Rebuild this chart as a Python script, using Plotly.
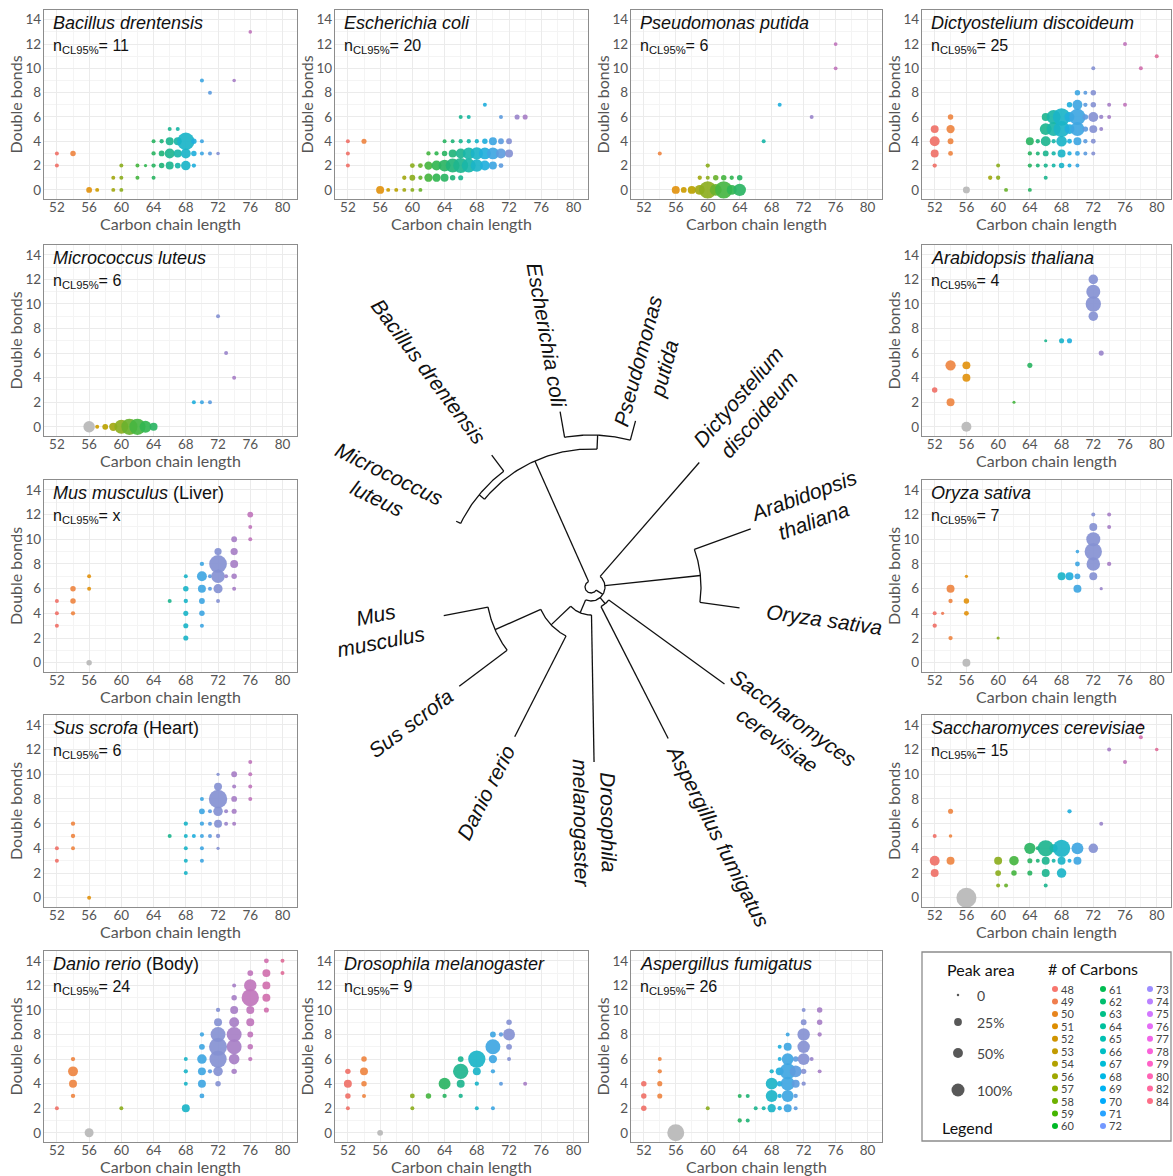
import math
import numpy as np
import plotly.graph_objects as go

W, H = 1173, 1176

# ---------------- data: (carbon chain length, double bonds, relative peak area %) ----------------
BACILLUS = [(52,3,2),(52,2,2),(54,3,8),(56,0,10),(57,0,2),(59,0,2),(60,0,2),(59,1,2),(60,1,2),(60,2,2),
            (62,1,2),(64,1,2),(62,2,2),(63,2,0.5),(64,2,3),(65,2,8),(66,2,27),(67,2,10),(68,2,45),(69,2,3),
            (64,3,3),(65,3,10),(66,3,50),(67,3,27),(68,3,50),(69,3,8),(70,3,2),(71,3,2),(72,3,1),
            (64,4,2),(65,4,3),(66,4,27),(67,4,27),(68,4,200),(69,4,8),(70,4,2),
            (66,5,2),(67,5,2),(70,9,2),(71,8,2),(74,9,1),(76,13,1)]
ECOLI = [(52,4,2),(52,3,2),(52,2,2),(54,4,6),
         (56,0,27),(57,0,2),(58,0,2),(59,0,2),(60,0,2),(61,0,2),
         (59,1,3),(60,1,10),(61,1,3),(62,1,30),(63,1,30),(64,1,27),(65,1,8),(66,1,6),
         (60,2,5),(61,2,5),(62,2,30),(63,2,50),(64,2,80),(65,2,120),(66,2,140),(67,2,120),(68,2,90),(69,2,50),(70,2,27),(71,2,5),
         (62,3,3),(63,3,3),(64,3,8),(65,3,27),(66,3,50),(67,3,80),(68,3,90),(69,3,80),(70,3,80),(71,3,50),(72,3,27),
         (64,4,2),(65,4,2),(66,4,3),(67,4,3),(68,4,3),(69,4,8),(70,4,27),(71,4,10),(72,4,10),
         (66,6,2),(67,6,2),(69,7,2),(71,6,2),(73,6,6),(74,6,6)]
PSEUDOMONAS = [(54,3,2),(56,0,27),(57,0,10),(58,0,27),(59,0,50),(60,0,200),(61,0,80),(62,0,200),(63,0,50),(64,0,90),
               (59,1,3),(60,1,2),(61,1,8),(62,1,8),(63,1,3),(64,1,8),(60,2,3),
               (67,4,2),(69,7,2),(73,6,2),(76,10,1.5),(76,12,1.5)]
DICTYOSTELIUM = [(52,2,3),(52,3,27),(52,4,50),(52,5,27),(54,3,5),(54,4,10),(54,5,30),(54,6,8),
                 (59,1,3),(60,1,3),(60,2,2),(61,0,2),(64,0,2),(66,1,2),
                 (64,2,3),(65,2,2),(66,2,3),(67,2,2),(68,2,8),(69,2,2),(70,2,2),
                 (64,3,3),(65,3,2),(66,3,10),(67,3,3),(68,3,27),(69,3,3),(70,3,5),(71,3,2),(72,3,2),
                 (64,4,27),(65,4,3),(66,4,50),(67,4,3),(68,4,60),(69,4,5),(70,4,27),(71,4,3),(72,4,5),
                 (66,5,80),(67,5,120),(68,5,170),(69,5,50),(70,5,120),(71,5,8),(72,5,27),(73,5,2),
                 (66,6,27),(67,6,120),(68,6,200),(69,6,50),(70,6,170),(71,6,8),(72,6,50),(73,6,3),(74,6,2),
                 (69,7,8),(70,7,50),(71,7,3),(72,7,8),(74,7,2),(76,7,2),
                 (70,8,8),(71,8,2),(72,8,8),(72,10,2),(76,12,2),(78,10,2),(80,11,2)]
MICROCOCCUS = [(57,0,2),(58,0,10),(59,0,30),(60,0,120),(61,0,170),(62,0,170),(63,0,80),(64,0,27),
               (69,2,2),(70,2,2),(71,2,2),(72,9,2),(73,6,2),(74,4,2)]
ARABIDOPSIS = [(52,3,8),(54,2,27),(54,5,55),(56,5,27),(56,4,27),(62,2,0.3),(64,5,6),(66,7,0.3),(68,7,6),(69,7,6),(73,6,6),
               (72,9,45),(72,10,150),(72,11,120),(72,12,45)]
MUS = [(52,3,2),(52,4,2),(52,5,2),(54,4,3),(54,5,8),(54,6,8),(56,6,2),(56,7,2),
       (66,5,2),(68,2,6),(68,3,6),(68,4,6),(68,5,3),(68,6,8),(68,7,2),
       (70,3,2),(70,4,8),(70,5,10),(70,6,27),(70,7,50),(70,8,3),(71,6,2),(71,7,2),
       (72,5,2),(72,6,40),(72,7,110),(72,8,210),(72,9,20),(73,7,2),
       (74,6,2),(74,7,8),(74,8,27),(74,9,20),(74,10,10),
       (76,10,2),(76,11,2),(76,12,10)]
ORYZA = [(52,3,3),(52,4,2),(53,4,0.5),(54,2,3),(54,5,3),(54,6,27),(56,4,5),(56,5,8),(56,7,0.5),(60,2,0.3),
         (68,7,27),(69,7,27),(70,6,27),(70,7,10),(70,8,5),(70,9,1),
         (72,7,27),(72,8,110),(72,9,200),(72,10,120),(72,11,27),(72,12,2),(73,6,0.5),
         (74,8,3),(74,11,2),(74,12,2)]
SUS = [(52,3,2),(52,4,2),(54,4,2),(54,5,3),(54,6,3),(56,0,2),
       (66,5,2),(68,2,2),(68,3,2),(68,4,2),(68,5,2),(68,6,3),(69,5,2),
       (70,3,2),(70,4,2),(70,5,2),(70,6,3),(70,7,10),(70,8,2),(71,5,2),(71,6,2),(71,7,2),
       (72,4,0.5),(72,5,3),(72,6,27),(72,7,45),(72,8,230),(72,9,27),(72,10,0.5),(73,6,2),(73,7,2),
       (74,6,2),(74,7,6),(74,8,10),(74,9,2),(74,10,10),
       (76,8,2),(76,9,2),(76,10,2),(76,11,2)]
SACCHAROMYCES = [(52,2,27),(52,3,50),(52,5,2),(54,3,27),(54,5,1),(54,7,6),
                 (60,1,2),(61,1,2),(60,2,10),(60,3,27),(62,2,8),(62,3,45),
                 (64,2,6),(64,3,6),(64,4,70),(65,3,2),(65,4,2),(66,1,2),(66,2,27),(66,3,27),(66,4,170),(67,3,2),(67,4,27),
                 (68,2,45),(68,3,27),(68,4,200),(69,3,2),(69,7,3),(70,3,27),(70,4,80),(72,4,45),
                 (73,6,2),(74,12,2),(76,11,2),(78,13,2),(78,14,1),(80,12,1)]
DANIO = [(52,2,2),(54,3,3),(54,4,27),(54,5,50),(54,6,3),(60,2,2),
         (68,2,27),(68,4,2),(68,5,3),(68,6,2),
         (70,3,5),(70,4,27),(70,5,27),(70,6,45),(70,7,10),(70,8,3),(71,5,3),
         (72,4,8),(72,5,45),(72,6,200),(72,7,220),(72,8,140),(72,9,27),(72,10,3),
         (74,5,8),(74,6,60),(74,7,140),(74,8,140),(74,9,50),(74,10,27),(74,11,8),(74,12,2),
         (76,6,3),(76,7,8),(76,8,10),(76,9,27),(76,10,27),(76,11,200),(76,12,90),(76,13,10),
         (78,10,6),(78,11,27),(78,12,27),(78,13,27),(78,14,5),(80,13,2),(80,14,2)]
DROSOPHILA = [(52,2,2),(52,3,8),(52,4,27),(52,5,8),(54,3,2),(54,4,8),(54,5,27),(54,6,8),
              (60,2,2),(60,3,5),(62,3,8),(64,3,3),(64,4,80),
              (66,3,3),(66,4,27),(66,5,150),(66,6,10),
              (68,2,2),(68,4,3),(68,5,27),(68,6,200),
              (70,2,2),(70,5,3),(70,6,30),(70,7,140),(70,8,10),(71,4,2),(71,8,3),
              (72,6,2),(72,7,10),(72,8,80),(72,9,8),(74,4,2)]
ASPERGILLUS = [(52,2,8),(52,3,8),(52,4,8),(54,3,6),(54,4,6),(54,5,3),(54,6,2),
               (60,2,2),(64,1,3),(65,1,2),(64,3,2),(65,3,2),
               (66,2,2),(67,2,2),(68,2,30),(69,2,3),(70,2,27),(71,2,2),
               (68,3,80),(69,3,3),(70,3,80),(71,3,3),
               (68,4,80),(69,4,8),(70,4,120),(71,4,27),
               (68,5,3),(69,5,27),(70,5,170),(71,5,80),
               (69,6,2),(70,6,80),(71,6,8),(69,7,2),(70,7,27),(70,8,2),
               (72,4,3),(72,5,8),(72,6,80),(72,7,90),(72,8,90),(72,9,10),(72,10,2),(73,6,2),
               (74,5,2),(74,8,3),(74,9,8),(74,10,8)]

# internal standard (grey, C56:0) peak area per panel (None = absent)
STANDARD_AREA = [None, None, None, 18, 73, 51, 8, 27, None, 278, 38, 10, 190]

PANEL_TITLES = ["<i>Bacillus drentensis</i>", "<i>Escherichia coli</i>", "<i>Pseudomonas putida</i>",
                "<i>Dictyostelium discoideum</i>", "<i>Micrococcus luteus</i>", "<i>Arabidopsis thaliana</i>",
                "<i>Mus musculus</i> (Liver)", "<i>Oryza sativa</i>", "<i>Sus scrofa</i> (Heart)",
                "<i>Saccharomyces cerevisiae</i>", "<i>Danio rerio</i> (Body)", "<i>Drosophila melanogaster</i>",
                "<i>Aspergillus fumigatus</i>"]
N_CL95 = ["11", "20", "6", "25", "6", "4", "x", "7", "6", "15", "24", "9", "26"]
PANEL_DATA = [BACILLUS, ECOLI, PSEUDOMONAS, DICTYOSTELIUM, MICROCOCCUS, ARABIDOPSIS, MUS, ORYZA,
              SUS, SACCHAROMYCES, DANIO, DROSOPHILA, ASPERGILLUS]

X_TICKS = [52, 56, 60, 64, 68, 72, 76, 80]
Y_TICKS = [0, 2, 4, 6, 8, 10, 12, 14]
X_TITLE = "Carbon chain length"
Y_TITLE = "Double bonds"

CARBON_LEVELS = [48, 49, 50, 51, 52, 53, 54, 56, 57, 58, 59, 60, 61, 62, 63, 64, 65, 66, 67, 68, 69, 70,
                 71, 72, 73, 74, 75, 76, 77, 78, 79, 80, 82, 84]
PEAK_AREA_LEVELS = [0, 25, 50, 100]
PEAK_AREA_LABELS = ["0", "25%", "50%", "100%"]

# tree: leaves (name, angle deg, tip radius px) and internal nodes (name, radius, children)
LEAF_NAMES = ["Pseudomonas<br>putida", "Escherichia coli", "Bacillus drentensis", "Micrococcus<br>luteus",
              "Mus<br>musculus", "Sus scrofa", "Danio rerio", "Drosophila<br>melanogaster",
              "Aspergillus fumigatus", "Saccharomyces<br>cerevisiae", "Oryza sativa", "Arabidopsis<br>thaliana",
              "Dictyostelium<br>discoideum"]
LEAF_ANGLES = [75, 100, 127, 154, 191, 217, 243, 271, 297, 324, 352, 380, 409]
LEAF_TIPS = [172, 178, 165, 150, 150, 165, 168, 175, 170, 165, 150, 170, 165]
TREE_NODES = [("EP", 152, ["Escherichia coli", "Pseudomonas<br>putida"]),
              ("BM", 145, ["Bacillus drentensis", "Micrococcus<br>luteus"]),
              ("BACT", 138, ["BM", "EP"]),
              ("PLANTS", 110, ["Arabidopsis<br>thaliana", "Oryza sativa"]),
              ("FUNGI", 22, ["Saccharomyces<br>cerevisiae", "Aspergillus fumigatus"]),
              ("MAMM", 105, ["Mus<br>musculus", "Sus scrofa"]),
              ("VERT", 55, ["MAMM", "Danio rerio"]),
              ("ANIM", 28, ["VERT", "Drosophila<br>melanogaster"]),
              ("EUK", 14, ["ANIM", "FUNGI", "PLANTS", "Dictyostelium<br>discoideum"]),
              ("ROOT", 6, ["BACT", "EUK"])]

# ---------------- styles ----------------
PANEL_COLOR = {52: "#EF7168", 53: "#EE7A55", 54: "#EE8542", 56: "#E2920F", 57: "#CD9C00", 58: "#BBA200",
               59: "#A3A812", 60: "#8CAE1F", 61: "#6AB22E", 62: "#46B541", 63: "#32B651", 64: "#2BB463",
               65: "#22B47A", 66: "#1EB58F", 67: "#1AB6A8", 68: "#1BB4C8", 69: "#22AFDC", 70: "#3FA6E2",
               71: "#5E9CDE", 72: "#8591D2", 73: "#9A86CB", 74: "#A77FC6", 75: "#B47AC2", 76: "#C076BC",
               77: "#C973B5", 78: "#D070AE", 79: "#D86EA3", 80: "#DE6D98", 82: "#E66E88", 84: "#EC6F7A"}
GREY = "#BDBDBD"
SANS = "Lato, Open Sans, sans-serif"
SERIF_IT = "Liberation Sans, Arial, sans-serif"
TICK_FONT = dict(family=SANS, size=13.5, color="#555555")
TITLE_FONT = dict(family=SANS, size=16, color="#555555")
COLS = [(44, 297), (335, 588), (631, 882), (922, 1171)]
ROWS = [(10, 199), (245, 436), (480, 672), (715, 907), (951, 1142)]
PANEL_POS = [(0, 0), (1, 0), (2, 0), (3, 0), (0, 1), (3, 1), (0, 2), (3, 2), (0, 3), (3, 3), (0, 4), (1, 4), (2, 4)]


def size_px(p):
    return 2.5 + 10.5 * math.sqrt(max(p, 0) / 100.0)


def hcl_hex(h, c=100, l=65):
    hr = math.radians(h)
    U, V = c * math.cos(hr), c * math.sin(hr)
    Y = ((l + 16) / 116) ** 3 if l > 8 else l / 903.3
    Xn, Yn, Zn = 0.95047, 1.0, 1.08883
    den = Xn + 15 * Yn + 3 * Zn
    un, vn = 4 * Xn / den, 9 * Yn / den
    u = U / (13 * l) + un
    v = V / (13 * l) + vn
    X = Y * 9 * u / (4 * v)
    Z = Y * (12 - 3 * u - 20 * v) / (4 * v)
    rgb = [3.2404542 * X - 1.5371385 * Y - 0.4985314 * Z,
           -0.9692660 * X + 1.8760108 * Y + 0.0415560 * Z,
           0.0556434 * X - 0.2040259 * Y + 1.0572252 * Z]
    out = []
    for ch in rgb:
        ch = 12.92 * ch if ch <= 0.0031308 else 1.055 * ch ** (1 / 2.4) - 0.055
        out.append(int(round(min(max(ch, 0), 1) * 255)))
    return "#%02X%02X%02X" % tuple(out)


fig = go.Figure()
annotations = []
layout_axes = {}

for i, pts in enumerate(PANEL_DATA):
    k = i + 1
    sfx = "" if k == 1 else str(k)
    col, row = PANEL_POS[i]
    x0, x1 = COLS[col]
    y0, y1 = ROWS[row]
    xa, ya = "x" + sfx, "y" + sfx
    if STANDARD_AREA[i] is not None:
        fig.add_trace(go.Scatter(x=[56], y=[0], mode="markers", xaxis=xa, yaxis=ya, showlegend=False,
                                 marker=dict(size=size_px(STANDARD_AREA[i]), color=GREY, line=dict(width=0)),
                                 hoverinfo="skip"))
    cx = [p[0] for p in pts]
    cy = [p[1] for p in pts]
    ca = [p[2] for p in pts]
    fig.add_trace(go.Scatter(x=cx, y=cy, mode="markers", xaxis=xa, yaxis=ya, showlegend=False,
                             marker=dict(size=[size_px(a) for a in ca], color=[PANEL_COLOR[c] for c in cx],
                                         opacity=0.92, line=dict(width=0)),
                             hoverinfo="skip"))
    common = dict(showline=True, mirror=True, linecolor="#8C8C8C", linewidth=1.3, showgrid=True,
                  gridcolor="#EBEBEB", gridwidth=1, zeroline=False, ticks="", tickfont=TICK_FONT,
                  fixedrange=True)
    layout_axes["xaxis" + sfx] = dict(common, domain=[x0 / W, x1 / W], range=[50.4, 81.8], tickvals=X_TICKS,
                                      anchor=ya, ticklabelstandoff=-4,
                                      minor=dict(tickvals=[54, 58, 62, 66, 70, 74, 78], showgrid=True,
                                                 gridcolor="#F4F4F4", gridwidth=1))
    layout_axes["yaxis" + sfx] = dict(common, domain=[1 - y1 / H, 1 - y0 / H], range=[-0.75, 14.8],
                                      tickvals=Y_TICKS, anchor=xa, ticklabelstandoff=-1,
                                      minor=dict(tickvals=[1, 3, 5, 7, 9, 11, 13], showgrid=True,
                                                 gridcolor="#F4F4F4", gridwidth=1))
    # axis titles
    annotations.append(dict(xref="x14", yref="y14", x=(x0 + x1) / 2, y=y1 + 24, text=X_TITLE, showarrow=False,
                            xanchor="center", yanchor="middle", font=TITLE_FONT))
    annotations.append(dict(xref="x14", yref="y14", x=x0 - 29, y=(y0 + y1) / 2, text=Y_TITLE, showarrow=False,
                            textangle=-90, xanchor="center", yanchor="middle", font=TITLE_FONT))
    annotations.append(dict(xref="x14", yref="y14", x=x0 + 7, y=y0 + 13, xanchor="left", yanchor="middle",
                            text=PANEL_TITLES[i], showarrow=False,
                            font=dict(family=SERIF_IT, size=18, color="#111111")))
    annotations.append(dict(xref="x14", yref="y14", x=x0 + 7, y=y0 + 36, xanchor="left", yanchor="middle",
                            text="n<sub>CL95%</sub>= " + N_CL95[i], showarrow=False,
                            font=dict(family=SERIF_IT, size=16, color="#111111")))

# ---------------- overlay axis (pixel space) for tree and legend ----------------
layout_axes["xaxis14"] = dict(domain=[0, 1], range=[0, W], visible=False, anchor="y14", fixedrange=True)
layout_axes["yaxis14"] = dict(domain=[0, 1], range=[H, 0], visible=False, anchor="x14", fixedrange=True)

CX, CY = 591, 587
angle = {n: a for n, a in zip(LEAF_NAMES, LEAF_ANGLES)}
radius = {n: r for n, r in zip(LEAF_NAMES, LEAF_TIPS)}
for name, r, ch in TREE_NODES:
    angs = [angle[c] for c in ch]
    angle[name] = (min(angs) + max(angs)) / 2
    radius[name] = r


def pt(r, a):
    return CX + r * math.cos(math.radians(a)), CY - r * math.sin(math.radians(a))


tx, ty = [], []
for name, r, ch in TREE_NODES:
    angs = [angle[c] for c in ch]
    arc = np.linspace(min(angs), max(angs), 60)
    for a in arc:
        px, py = pt(r, a)
        tx.append(px); ty.append(py)
    tx.append(None); ty.append(None)
    for c in ch:
        p0 = pt(r, angle[c]); p1 = pt(radius[c], angle[c])
        tx += [p0[0], p1[0], None]; ty += [p0[1], p1[1], None]
fig.add_trace(go.Scatter(x=tx, y=ty, mode="lines", xaxis="x14", yaxis="y14", showlegend=False,
                         line=dict(color="#111111", width=1.3), hoverinfo="skip"))

LABEL_FONT = 21
for n, a in zip(LEAF_NAMES, LEAF_ANGLES):
    lines = n.split("<br>")
    L = max(len(s) for s in lines) * 0.46 * LABEL_FONT
    rc = 178 + L / 2
    px, py = pt(rc, a)
    a_n = ((a + 180) % 360) - 180
    rot = -a_n if -90 <= a_n <= 90 else 180 - a_n
    if rot > 180:
        rot -= 360
    annotations.append(dict(xref="x14", yref="y14", x=px, y=py, text="<i>" + n + "</i>", showarrow=False,
                            textangle=rot, xanchor="center", yanchor="middle", align="center",
                            font=dict(family=SERIF_IT, size=LABEL_FONT, color="#111111")))

# ---------------- legend box ----------------
shapes = [dict(type="rect", xref="x14", yref="y14", x0=922, x1=1171, y0=952, y1=1141,
               line=dict(color="#8C8C8C", width=1.3), fillcolor="rgba(0,0,0,0)")]
LEG_FONT = dict(family=SANS, size=16, color="#111111")
annotations.append(dict(xref="x14", yref="y14", x=981, y=969, text="Peak area", showarrow=False, font=LEG_FONT))
annotations.append(dict(xref="x14", yref="y14", x=967, y=1127, text="Legend", showarrow=False, font=LEG_FONT))
annotations.append(dict(xref="x14", yref="y14", x=1093, y=968, text="# of Carbons", showarrow=False, font=LEG_FONT))
pa_y = [995, 1022, 1053, 1090]
fig.add_trace(go.Scatter(x=[958] * 4, y=pa_y, mode="markers", xaxis="x14", yaxis="y14", showlegend=False,
                         marker=dict(size=[size_px(p) for p in PEAK_AREA_LEVELS], color="#111111",
                                     line=dict(width=0)), hoverinfo="skip"))
for yv, lab in zip(pa_y, PEAK_AREA_LABELS):
    annotations.append(dict(xref="x14", yref="y14", x=975, y=yv, text=lab, showarrow=False, xanchor="left",
                            font=dict(family=SANS, size=14, color="#444444")))
n_lv = len(CARBON_LEVELS)
leg_cols = [(0, 12), (12, 24), (24, 34)]
col_x = [1055, 1103, 1150]
lx, ly, lc = [], [], []
for ci, (s, e) in enumerate(leg_cols):
    for j, idx in enumerate(range(s, e)):
        yv = 989 + j * 12.45
        lx.append(col_x[ci]); ly.append(yv)
        lc.append(hcl_hex(15 + idx * 360 / n_lv))
        annotations.append(dict(xref="x14", yref="y14", x=col_x[ci] + 5, y=yv, text=str(CARBON_LEVELS[idx]),
                                showarrow=False, xanchor="left", yanchor="middle", borderpad=0,
                                font=dict(family=SANS, size=11, color="#444444")))
fig.add_trace(go.Scatter(x=lx, y=ly, mode="markers", xaxis="x14", yaxis="y14", showlegend=False,
                         marker=dict(size=6, color=lc, line=dict(width=0)), hoverinfo="skip"))

fig.update_layout(width=W, height=H, margin=dict(l=0, r=0, t=0, b=0), paper_bgcolor="white",
                  plot_bgcolor="rgba(0,0,0,0)", showlegend=False, annotations=annotations, shapes=shapes,
                  **layout_axes)
fig.write_html("out.html")
